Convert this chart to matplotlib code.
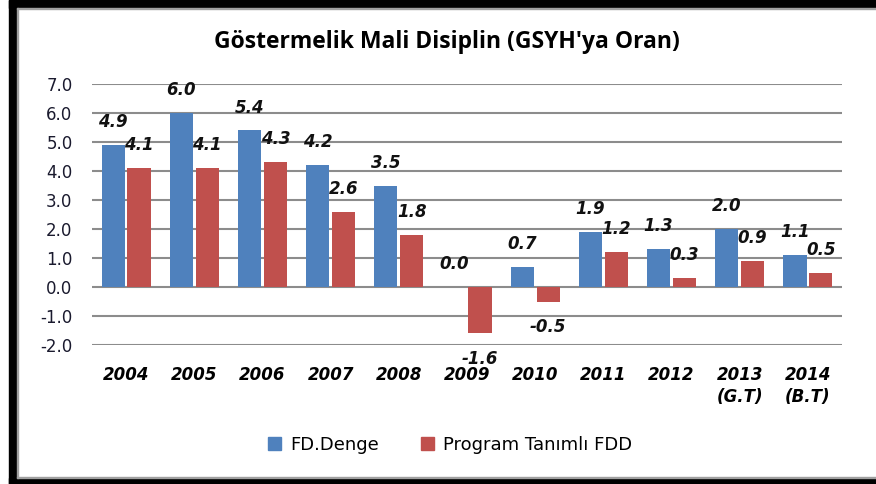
import matplotlib
matplotlib.use("Agg")
import numpy as np
import matplotlib.pyplot as plt
from matplotlib.patches import Rectangle, Patch

plt.rcParams['font.family'] = ['DejaVu Sans']

years = ["2004", "2005", "2006", "2007", "2008", "2009", "2010",
         "2011", "2012", "2013\n(G.T)", "2014\n(B.T)"]
fd_denge = [4.9, 6.0, 5.4, 4.2, 3.5, 0.0, 0.7, 1.9, 1.3, 2.0, 1.1]
program_fdd = [4.1, 4.1, 4.3, 2.6, 1.8, -1.6, -0.5, 1.2, 0.3, 0.9, 0.5]
yticks = [-2, -1, 0, 1, 2, 3, 4, 5, 6, 7]

blue = "#4F81BD"
red = "#C0504D"
W, H = 876, 484

fig = plt.figure(figsize=(W / 100, H / 100), dpi=100)

# black frame like the screenshot (left, top, bottom)
def px_rect(x0, y0, x1, y1, color):
    fig.patches.append(Rectangle((x0 / W, 1 - y1 / H), (x1 - x0) / W, (y1 - y0) / H,
                                 transform=fig.transFigure, color=color, zorder=0))

px_rect(9, 0, 17, H, "black")
px_rect(9, 0, W, 8, "black")
px_rect(9, 478, W, H, "black")
px_rect(17, 8, 18, 478, "#a0a0a0")
px_rect(17, 8, W, 9, "#a0a0a0")
px_rect(17, 477, W, 478, "#a0a0a0")

ax = fig.add_axes([92 / W, 1 - 345 / H, 750 / W, 261 / H])
x = np.arange(len(years))
bw = 0.34
off = 0.19
b1 = ax.bar(x - off, fd_denge, bw, color=blue, zorder=3)
b2 = ax.bar(x + off, program_fdd, bw, color=red, zorder=3)

ax.set_xlim(-0.5, len(years) - 0.5)
ax.set_ylim(-2, 7)
ax.set_yticks(yticks)
ax.set_yticklabels(["%.1f" % v for v in yticks])
ax.yaxis.grid(True, color="#8c8c8c", linewidth=1.5, zorder=0)
ax.set_axisbelow(True)
for s in ax.spines.values():
    s.set_visible(False)
ax.tick_params(axis="y", length=0, pad=14, labelsize=12, labelcolor="#1a1a2e")
ax.tick_params(axis="x", length=0, pad=15)
ax.set_xticks(x)
ax.set_xticklabels(years, fontsize=12, fontweight="bold", fontstyle="italic",
                   va="top", linespacing=1.3)

for bars, vals in ((b1, fd_denge), (b2, program_fdd)):
    for b, v in zip(bars, vals):
        cx = b.get_x() + b.get_width() / 2
        if v < 0:
            ax.annotate("%.1f" % v, (cx, v), xytext=(0, -12), textcoords="offset points",
                        ha="center", va="top", fontsize=12, fontweight="bold",
                        fontstyle="italic", color="#111111")
        else:
            ax.annotate("%.1f" % v, (cx, v), xytext=(0, 10), textcoords="offset points",
                        ha="center", va="bottom", fontsize=12, fontweight="bold",
                        fontstyle="italic", color="#111111")

fig.text(447 / W, 1 - 42 / H, "Göstermelik Mali Disiplin (GSYH'ya Oran)",
         ha="center", va="center", fontsize=16.5, fontweight="bold", family="Open Sans")

handles = [Patch(color=blue, label="FD.Denge"),
           Patch(color=red, label="Program Tanımlı FDD")]
fig.legend(handles=handles, loc="center", bbox_to_anchor=(450 / W, 1 - 445 / H),
           ncol=2, frameon=False, fontsize=13, handlelength=0.75, handleheight=0.75,
           handletextpad=0.5, columnspacing=2.3)

fig.savefig("out.png", dpi=100)
